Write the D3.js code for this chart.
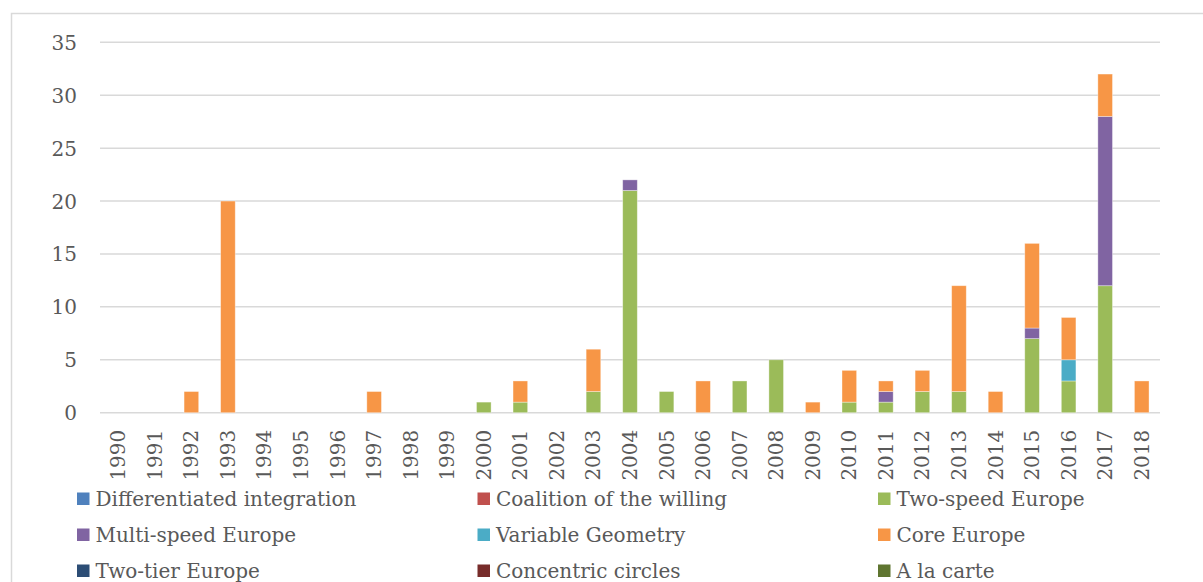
<!DOCTYPE html>
<html>
<head>
    <meta charset="utf-8" />
    <title>Stacked bar chart</title>
    <script src="https://cdn.jsdelivr.net/npm/d3@7/dist/d3.min.js"></script>
    <style>
        body {
            margin: 0;
            background: #fff;
        }

        text {
            font-family: "DejaVu Serif", serif;
            fill: #595959;
        }

        .grid line {
            stroke: #d9d9d9;
            stroke-width: 1.5;
        }

        .axis path,
        .axis line {
            display: none;
        }
    </style>
</head>
<body>
    <div id="graphic"></div>

    <script>
        var years = d3.range(1990, 2019).map(String);

        var seriesNames = ["Differentiated integration", "Coalition of the willing", "Two-speed Europe",
            "Multi-speed Europe", "Variable Geometry", "Core Europe",
            "Two-tier Europe", "Concentric circles", "A la carte"];

        var seriesColors = ["#4f81bd", "#c0504d", "#9bbb59", "#8064a2", "#4bacc6", "#f79646",
            "#2c4d75", "#772c2a", "#5f7530"];

        // one value per year, 1990..2018
        var differentiated = [0,0,0,0,0,0,0,0,0,0, 0,0,0,0,0,0,0,0,0,0, 0,0,0,0,0,0,0,0,0];
        var coalition      = [0,0,0,0,0,0,0,0,0,0, 0,0,0,0,0,0,0,0,0,0, 0,0,0,0,0,0,0,0,0];
        var twoSpeed       = [0,0,0,0,0,0,0,0,0,0, 1,1,0,2,21,2,0,3,5,0, 1,1,2,2,0,7,3,12,0];
        var multiSpeed     = [0,0,0,0,0,0,0,0,0,0, 0,0,0,0,1,0,0,0,0,0, 0,1,0,0,0,1,0,16,0];
        var variableGeo    = [0,0,0,0,0,0,0,0,0,0, 0,0,0,0,0,0,0,0,0,0, 0,0,0,0,0,0,2,0,0];
        var coreEurope     = [0,0,2,20,0,0,0,2,0,0, 0,2,0,4,0,0,3,0,0,1, 3,1,2,10,2,8,4,4,3];
        var twoTier        = [0,0,0,0,0,0,0,0,0,0, 0,0,0,0,0,0,0,0,0,0, 0,0,0,0,0,0,0,0,0];
        var concentric     = [0,0,0,0,0,0,0,0,0,0, 0,0,0,0,0,0,0,0,0,0, 0,0,0,0,0,0,0,0,0];
        var aLaCarte       = [0,0,0,0,0,0,0,0,0,0, 0,0,0,0,0,0,0,0,0,0, 0,0,0,0,0,0,0,0,0];

        var yTicks = [0, 5, 10, 15, 20, 25, 30, 35];

        var seriesValues = [differentiated, coalition, twoSpeed, multiSpeed, variableGeo,
            coreEurope, twoTier, concentric, aLaCarte];

        // rows for d3.stack
        var table = years.map(function (yr, i) {
            var row = { year: yr };
            seriesNames.forEach(function (name, s) {
                row[name] = seriesValues[s][i];
            });
            return row;
        });

        var width = 1203,
            height = 582;

        var plotLeft = 100, plotRight = 1160, plotTop = 42.3, plotBottom = 412.7;

        var svg = d3.select("#graphic").append("svg")
            .attr("width", width)
            .attr("height", height);

        // chart frame
        svg.append("rect")
            .attr("x", 11.5)
            .attr("y", 13.5)
            .attr("width", 1250)
            .attr("height", 700)
            .attr("fill", "none")
            .attr("stroke", "#d9d9d9")
            .attr("stroke-width", 1.5);

        var x = d3.scaleBand()
            .domain(years)
            .range([plotLeft, plotRight])
            .paddingInner(0.6)
            .paddingOuter(0.3);

        var y = d3.scaleLinear()
            .domain([0, 35])
            .range([plotBottom, plotTop]);

        // gridlines
        svg.append("g")
            .attr("class", "grid")
            .selectAll("line")
            .data(yTicks)
            .enter()
            .append("line")
            .attr("x1", plotLeft)
            .attr("x2", plotRight)
            .attr("y1", function (d) { return y(d); })
            .attr("y2", function (d) { return y(d); });

        // y axis
        var yAxis = d3.axisLeft(y).tickValues(yTicks).tickSize(0).tickPadding(23);
        svg.append("g")
            .attr("class", "axis")
            .attr("transform", "translate(" + plotLeft + ",0)")
            .call(yAxis)
            .selectAll("text")
            .style("font-size", "20px")
            .style("font-family", "DejaVu Serif, serif")
            .attr("fill", "#595959")
            .attr("dy", "0.35em");

        // stacked bars
        var stack = d3.stack().keys(seriesNames);
        var layers = stack(table);

        svg.append("g")
            .selectAll("g")
            .data(layers)
            .enter()
            .append("g")
            .attr("fill", function (d, i) { return seriesColors[i]; })
            .selectAll("rect")
            .data(function (d) { return d.filter(function (p) { return p[1] - p[0] > 0; }); })
            .enter()
            .append("rect")
            .attr("x", function (d) { return x(d.data.year); })
            .attr("width", x.bandwidth())
            .attr("y", function (d) { return y(d[1]); })
            .attr("height", function (d) { return y(d[0]) - y(d[1]); })
            .attr("stroke", "#ffffff")
            .attr("stroke-opacity", 0.45)
            .attr("stroke-width", 0.8);

        // x axis labels, rotated
        var xAxis = d3.axisBottom(x).tickSize(0).tickPadding(0);
        svg.append("g")
            .attr("class", "axis")
            .attr("transform", "translate(0," + plotBottom + ")")
            .call(xAxis)
            .selectAll("text")
            .style("font-size", "20px")
            .style("font-family", "DejaVu Serif, serif")
            .attr("fill", "#595959")
            .attr("text-anchor", "end")
            .attr("transform", "rotate(-90)")
            .attr("x", -17)
            .attr("y", 0)
            .attr("dy", "0.35em");

        // legend, 3 columns
        var legend = svg.append("g")
            .selectAll("g")
            .data(seriesNames)
            .enter()
            .append("g")
            .attr("transform", function (d, i) {
                return "translate(" + (77 + (i % 3) * 400.5) + "," + (499 + Math.floor(i / 3) * 36) + ")";
            });

        legend.append("rect")
            .attr("x", 0)
            .attr("y", -6.5)
            .attr("width", 12.5)
            .attr("height", 12.5)
            .attr("fill", function (d, i) { return seriesColors[i]; });

        legend.append("text")
            .attr("x", 18.5)
            .attr("y", 0)
            .attr("dy", "0.35em")
            .style("font-size", "20px")
            .text(function (d) { return d; });
    </script>
</body>
</html>
